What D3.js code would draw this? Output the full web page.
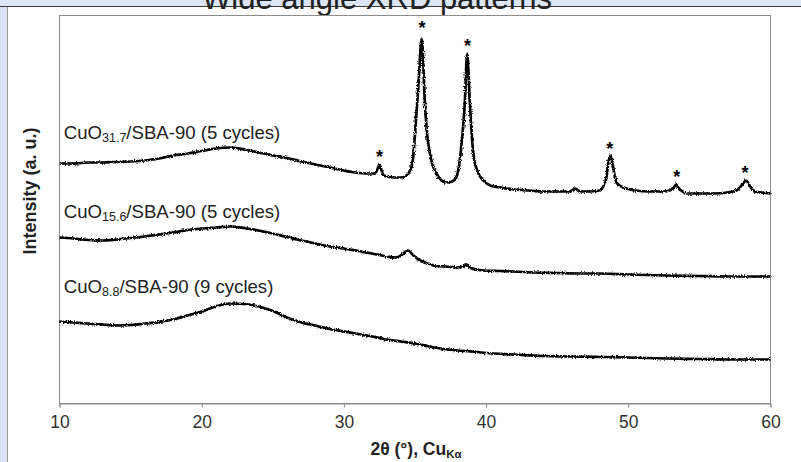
<!DOCTYPE html>
<html>
<head>
<meta charset="utf-8">
<script src="https://cdn.jsdelivr.net/npm/d3@7"></script>
<style>
  body { margin: 0; background: #dbe5f4; }
  svg { display: block; }
</style>
</head>
<body>
<svg class="chart" width="801" height="462"></svg>
<script>
// XRD scans, 2θ in degrees and intensity in arbitrary units
const angle31 = [10, 11, 12, 13, 14, 15, 16, 17, 18, 19, 20, 21, 22, 23, 24, 25, 26, 27, 28, 29, 30, 30.8, 31.6, 32.2, 32.35, 32.5, 32.65, 32.8, 33.5, 34, 34.4, 34.65, 34.84, 35.1, 35.25, 35.47, 35.7, 35.85, 36.05, 36.5, 37.2, 37.6, 37.9, 38.1, 38.28, 38.5, 38.67, 38.86, 39.1, 39.4, 39.8, 40.3, 41, 42, 43, 44, 45, 45.9, 46.25, 46.6, 47.3, 48, 48.3, 48.46, 48.58, 48.74, 48.93, 49.17, 49.5, 49.87, 50.5, 51.5, 52.5, 52.9, 53.2, 53.37, 53.55, 53.73, 54.1, 55, 56, 57, 57.59, 57.85, 58.06, 58.29, 58.53, 58.88, 59.4, 60];
const int31 = [240, 240, 241, 241, 241.5, 242, 243, 245, 248, 250, 252.5, 255, 256, 254, 251, 248, 245.5, 242, 239, 236, 233, 231, 230, 230, 234, 239, 233, 228, 226, 226, 228, 233, 243, 290, 320, 365, 300, 270, 250, 230, 221, 222, 226, 238, 260, 300, 350, 300, 250, 232, 223, 218, 216, 214, 213, 212, 212, 212, 215, 212, 212, 213, 219, 226, 240, 248, 236, 221, 217, 215, 213, 212, 212, 213, 216, 219, 215, 213, 210, 210, 210, 211, 213, 216, 220, 223, 218, 212, 211, 210];

const angle15 = [10, 11, 12, 13, 14, 15, 16, 17, 18, 19, 20, 21, 22, 23, 24, 25, 26, 27, 28, 29, 30, 31, 32, 33, 33.7, 34.1, 34.5, 34.9, 35.35, 36, 36.5, 37.2, 37.95, 38.4, 38.65, 38.9, 39.8, 41, 42, 43.3, 45, 46.5, 48, 50, 52.7, 55, 57.3, 60];
const int15 = [166, 165, 163.5, 163, 164, 165.5, 167, 169, 171, 173.5, 175, 176, 177, 175.5, 173, 170, 166.5, 163, 160, 157, 155, 152.5, 150, 147, 146, 149, 153, 148, 143, 139.5, 137.5, 137, 136, 137, 139, 135.5, 133, 132.5, 132, 131, 130.5, 130, 130, 129, 128, 127.5, 127, 127];

const angle8 = [10, 11, 12, 13, 14, 15, 16, 17, 18, 19, 20, 21, 22, 23, 24, 25, 26, 27, 28, 29, 30, 31, 32, 33, 34, 35, 36, 37, 38, 39, 40, 42, 44, 46, 48, 50, 52.7, 55, 57.3, 60];
const int8 = [82, 81, 80, 79, 78, 78.5, 80, 81.5, 84, 88, 92, 97, 100, 99.5, 97, 92.5, 86, 81, 78, 74.5, 72, 69.5, 67, 64, 62, 60, 57, 54.5, 53, 52, 50.5, 49, 47.5, 47, 46.5, 46, 45, 44.5, 44, 44];

// CuO reflections marked with a star
const starAngles = [32.5, 35.5, 38.7, 48.7, 53.4, 58.2];
const starLevels = [251, 380, 362, 259, 231, 235];

const seriesNames = [
  { main: "CuO", sub: "31.7", rest: "/SBA-90 (5 cycles)" },
  { main: "CuO", sub: "15.6", rest: "/SBA-90 (5 cycles)" },
  { main: "CuO", sub: "8.8", rest: "/SBA-90 (9 cycles)" }
];
const xTicks = [10, 20, 30, 40, 50, 60];

const svg = d3.select(".chart");
const width = 801;
const height = 462;
const font = "Arial, 'Liberation Sans', sans-serif";

// white panel on the blue page
svg.append("rect")
  .attr("x", 7).attr("y", 6)
  .attr("width", width - 7).attr("height", height - 6)
  .attr("fill", "white");
svg.append("line")
  .attr("x1", 7.5).attr("x2", 7.5).attr("y1", 6).attr("y2", height)
  .attr("stroke", "#9a9a9a");
svg.append("line")
  .attr("x1", 0).attr("x2", width).attr("y1", 6.5).attr("y2", 6.5)
  .attr("stroke", "#3a3a3a");

// title, cut off at the top edge like the original
svg.append("text")
  .attr("x", 377).attr("y", 9)
  .attr("text-anchor", "middle")
  .attr("font-family", font)
  .attr("font-size", 31)
  .attr("fill", "#222")
  .text("Wide angle XRD patterns");

const x = d3.scaleLinear().domain([10, 60]).range([59.5, 770.5]);
const y = d3.scaleLinear().domain([0, 388]).range([403.5, 15.5]);

// plot frame
svg.append("rect")
  .attr("x", x(10)).attr("y", y(388))
  .attr("width", x(60) - x(10)).attr("height", y(0) - y(388))
  .attr("fill", "none")
  .attr("stroke", "#8c8c8c");

const xAxis = d3.axisBottom(x).tickValues(xTicks).tickSize(4).tickPadding(8);
const gx = svg.append("g")
  .attr("transform", `translate(0, ${y(0)})`)
  .call(xAxis);
gx.select(".domain").attr("stroke", "#8c8c8c");
gx.selectAll(".tick line").attr("stroke", "#8c8c8c");
gx.selectAll(".tick text")
  .attr("font-family", font)
  .attr("font-size", 17.5)
  .attr("fill", "#333");

// fuzz so the traces look like noisy scans
const defs = svg.append("defs");
const fuzz = defs.append("filter")
  .attr("id", "fuzz")
  .attr("x", "-2%").attr("y", "-20%")
  .attr("width", "104%").attr("height", "140%");
fuzz.append("feTurbulence")
  .attr("type", "fractalNoise")
  .attr("baseFrequency", "0.9 0.6")
  .attr("numOctaves", 2)
  .attr("seed", 3)
  .attr("result", "noise");
fuzz.append("feDisplacementMap")
  .attr("in", "SourceGraphic")
  .attr("in2", "noise")
  .attr("scale", 3.2)
  .attr("xChannelSelector", "R")
  .attr("yChannelSelector", "G");

const line = d3.line()
  .x((d) => x(d[0]))
  .y((d) => y(d[1]))
  .curve(d3.curveMonotoneX);

const scans = [
  d3.zip(angle31, int31),
  d3.zip(angle15, int15),
  d3.zip(angle8, int8)
];

svg.append("g")
  .selectAll("path")
  .data(scans)
  .enter()
  .append("path")
  .attr("d", line)
  .attr("fill", "none")
  .attr("stroke", "black")
  .attr("stroke-width", 2.7)
  .attr("stroke-linejoin", "round")
  .attr("filter", "url(#fuzz)");

// stars over the CuO peaks
svg.append("g")
  .selectAll("text")
  .data(d3.zip(starAngles, starLevels))
  .enter()
  .append("text")
  .attr("x", (d) => x(d[0]))
  .attr("y", (d) => y(d[1]) + 10)
  .attr("text-anchor", "middle")
  .attr("font-family", font)
  .attr("font-weight", "bold")
  .attr("font-size", 18)
  .attr("fill", "black")
  .text("*");

// sample labels above each trace
const labelLevels = [265, 186, 111];
const labels = svg.append("g")
  .selectAll("text")
  .data(seriesNames)
  .enter()
  .append("text")
  .attr("x", x(10.3))
  .attr("y", (d, i) => y(labelLevels[i]))
  .attr("font-family", font)
  .attr("font-size", 18.6)
  .attr("fill", "#222");
labels.append("tspan").text((d) => d.main);
labels.append("tspan")
  .attr("font-size", 12.5)
  .attr("dy", 3)
  .text((d) => d.sub);
labels.append("tspan")
  .attr("dy", -3)
  .text((d) => d.rest);

// axis titles
const xTitle = svg.append("text")
  .attr("x", 416).attr("y", 455)
  .attr("text-anchor", "middle")
  .attr("font-family", font)
  .attr("font-weight", "bold")
  .attr("font-size", 17.5)
  .attr("fill", "#222");
xTitle.append("tspan").text("2θ (°), Cu");
xTitle.append("tspan").attr("font-size", 11.5).attr("dy", 3).text("Kα");

svg.append("text")
  .attr("transform", "translate(36, 191) rotate(-90)")
  .attr("text-anchor", "middle")
  .attr("font-family", font)
  .attr("font-weight", "bold")
  .attr("font-size", 18)
  .attr("fill", "#222")
  .text("Intensity (a. u.)");
</script>
</body>
</html>
